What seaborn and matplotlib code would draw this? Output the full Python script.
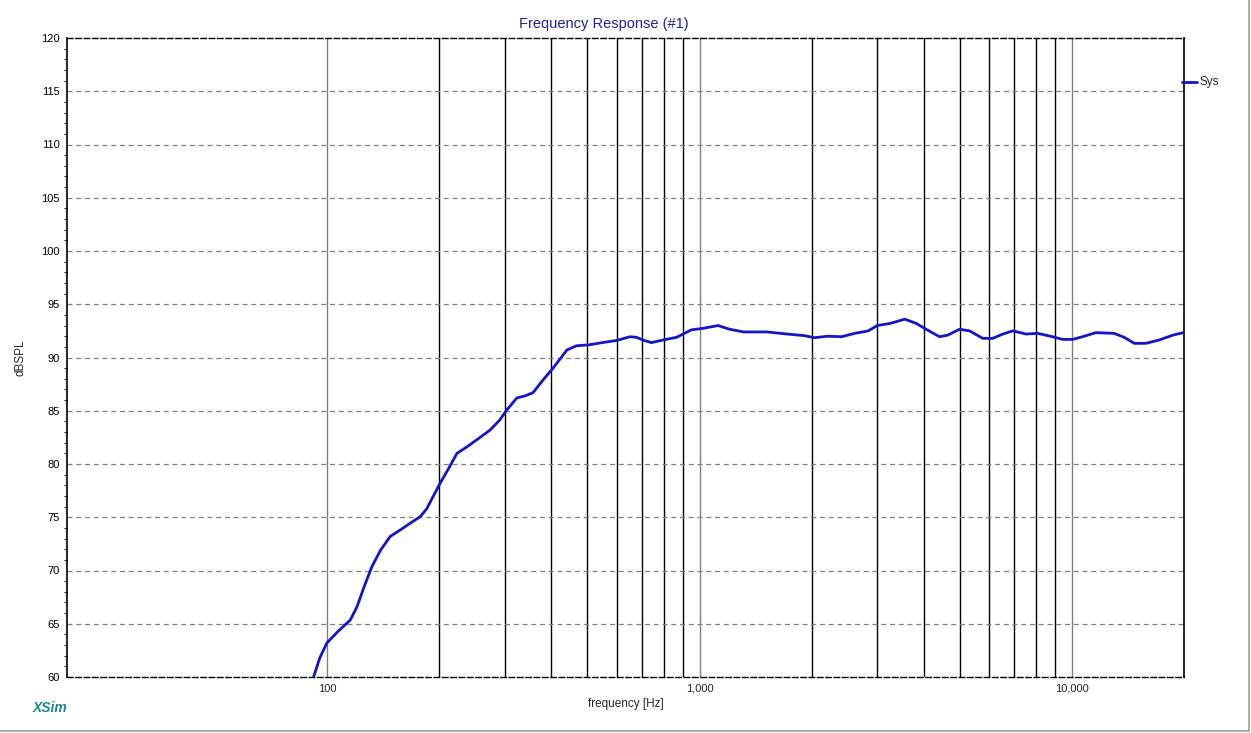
import matplotlib
matplotlib.use("Agg")
import matplotlib.pyplot as plt
import seaborn as sns
import pandas as pd
import numpy as np
from matplotlib.lines import Line2D

# ---- data ----
freq_hz = [91.9, 95.5, 99.8, 107, 115.3, 120.2, 126, 131.8, 139, 147.6, 157, 168, 177.7, 185,
           201, 212, 223, 237, 255, 274, 290, 304, 323, 340, 357, 380, 404, 425, 440,
           467, 507, 548, 599, 650, 676, 710, 742, 800, 868, 951, 1022, 1121, 1205,
           1313, 1519, 1722, 1913, 2036, 2213, 2404, 2613, 2839, 3000, 3250, 3557,
           3820, 4060, 4410, 4640, 4990, 5310, 5760, 6130, 6520, 6940, 7530, 8090,
           8870, 9440, 10040, 10680, 11590, 12970, 13810, 14700, 15800, 17180,
           18670, 19900]
spl_db = [60.0, 61.8, 63.2, 64.3, 65.35, 66.6, 68.6, 70.36, 71.9, 73.2, 73.8, 74.5, 75.05, 75.8,
          78.2, 79.6, 81.0, 81.6, 82.4, 83.2, 84.1, 85.1, 86.2, 86.4, 86.7, 87.9, 89.0, 90.0, 90.7,
          91.1, 91.2, 91.4, 91.6, 91.95, 91.9, 91.6, 91.4, 91.65, 91.9, 92.6, 92.74, 93.0, 92.65,
          92.4, 92.4, 92.2, 92.05, 91.86, 92.0, 91.95, 92.27, 92.5, 93.0, 93.2, 93.6,
          93.2, 92.65, 91.95, 92.1, 92.65, 92.5, 91.8, 91.8, 92.2, 92.5, 92.2, 92.27,
          91.95, 91.7, 91.7, 91.95, 92.33, 92.27, 91.9, 91.33, 91.33, 91.65,
          92.1, 92.33]
series_name = "Sys"
x_tick_values = [100, 1000, 10000]
x_tick_labels = ["100", "1,000", "10,000"]
y_tick_values = list(range(60, 121, 5))

df = pd.DataFrame({"frequency": freq_hz, "dBSPL": spl_db, "series": series_name})

W, H = 1251, 733
fig = plt.figure(figsize=(W / 100, H / 100), dpi=100)
sns.set_style("white")
plt.rcParams["font.family"] = ["Liberation Sans", "DejaVu Sans"]

L, R, T, B = 67, 1184, 38, 677
ax = fig.add_axes([L / W, 1 - B / H, (R - L) / W, (B - T) / H])
ax.set_xscale("log")
ax.set_xlim(20, 20000)
ax.set_ylim(60, 120)

# vertical grid lines
for d in [100, 1000, 10000]:
    ax.axvline(d, color="#808080", lw=1.0, zorder=1)
for dec in [100, 1000]:
    for m in range(2, 10):
        ax.axvline(dec * m, color="black", lw=1.0, zorder=1)
# horizontal dashed grid
for yv in y_tick_values[1:-1]:
    ax.axhline(yv, color="#808080", lw=0.9, ls=(0, (4, 3)), zorder=1)

sns.lineplot(data=df, x="frequency", y="dBSPL", hue="series", palette=["#1414c8"],
             estimator=None, sort=False, lw=2.0, ax=ax, zorder=3, legend=False)

# spines
for s in ["top", "bottom"]:
    ax.spines[s].set_linestyle((0, (4, 2)))
    ax.spines[s].set_color("black")
    ax.spines[s].set_linewidth(1.0)
for s in ["left", "right"]:
    ax.spines[s].set_color("black")
    ax.spines[s].set_linewidth(1.2)

ax.set_xticks(x_tick_values)
ax.set_xticklabels(x_tick_labels)
ax.xaxis.set_minor_locator(matplotlib.ticker.NullLocator())
ax.set_yticks(y_tick_values)
ax.set_yticks(np.arange(60, 121, 1), minor=True)
ax.tick_params(axis="y", which="major", length=4, width=0.8, labelsize=8, pad=1, colors="black")
ax.tick_params(axis="y", which="minor", length=2, width=0.8, left=True)
ax.tick_params(axis="x", which="major", length=2, width=0.8, labelsize=8, pad=3)
ax.set_xlabel("frequency [Hz]", fontsize=8.5, labelpad=3)
ax.set_ylabel("dBSPL", fontsize=8.5, labelpad=11)

# legend
fig.add_artist(Line2D([1182 / W, 1197 / W], [1 - 82 / H, 1 - 82 / H], transform=fig.transFigure,
                      color="#1414c8", lw=2.0))
fig.text(1200 / W, 1 - 82 / H, series_name, fontsize=8.5, va="center", ha="left")

# title and logo
fig.text(604 / W, 1 - 24 / H, "Frequency Response (#1)", color="#2020a0", fontsize=10.5,
         ha="center", va="center")
fig.text(33 / W, 1 - 708 / H, "XSim", color="#1a8a8a", fontsize=10, fontstyle="italic",
         fontweight="bold", ha="left", va="center")

# window border
fig.add_artist(Line2D([0, 1249 / W], [1 - 731 / H, 1 - 731 / H], transform=fig.transFigure,
                      color="#a0a0a0", lw=1.2))
fig.add_artist(Line2D([1249 / W, 1249 / W], [1 - 731 / H, 1], transform=fig.transFigure,
                      color="#a0a0a0", lw=1.2))

fig.savefig("out.png", dpi=100)
